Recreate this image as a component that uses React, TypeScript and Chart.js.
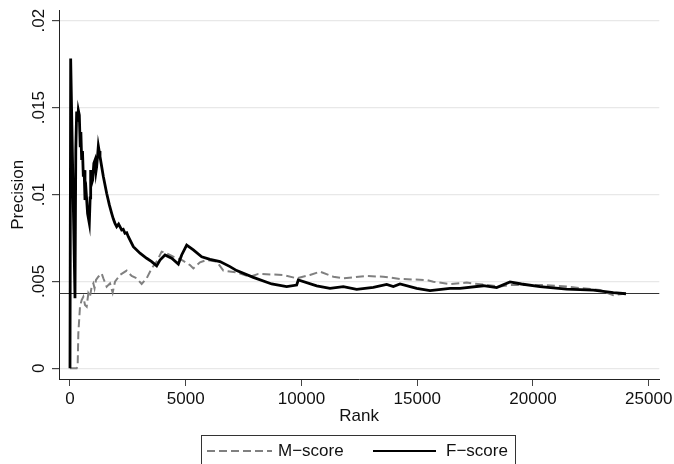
import React, { useEffect, useRef } from "react";
import { Chart, registerables } from "chart.js";

Chart.register(...registerables);

// ---- Data ----
const SERIES_NAMES = ["M\u2212score", "F\u2212score"];
const X_TITLE = "Rank";
const Y_TITLE = "Precision";

const M_RANK = [
  0, 288, 330, 360, 432, 504, 576, 648, 720, 792, 864, 936, 1008, 1060, 1123,
  1224, 1368, 1440, 1584, 1728, 1843, 1944, 2160, 2448, 2664, 2880, 3096, 3312,
  3528, 3744, 3960, 4176, 4464, 4824, 5184, 5328, 5616, 5904, 6336, 6624, 7200,
  7775, 8135, 9215, 9791, 10367, 10799, 11375, 11807, 12815, 13535, 14255,
  15407, 15695, 16415, 17135, 18575, 19006, 20446, 21455, 22894, 23470, 23850,
];
const M_PREC = [
  0, 0, 0.0001, 0.00201, 0.00355, 0.00393, 0.00412, 0.00364, 0.00355, 0.00431,
  0.00412, 0.0047, 0.00489, 0.0046, 0.00508, 0.00527, 0.00546, 0.00518, 0.0047,
  0.00489, 0.00435, 0.00498, 0.00537, 0.00562, 0.00531, 0.00518, 0.00485,
  0.00518, 0.00575, 0.00614, 0.00671, 0.00662, 0.00642, 0.00623, 0.00594,
  0.00575, 0.0061, 0.00623, 0.00614, 0.00562, 0.00552, 0.00527, 0.00543,
  0.00537, 0.00518, 0.00537, 0.00556, 0.00527, 0.00518, 0.00531, 0.00527,
  0.00514, 0.00508, 0.00498, 0.00485, 0.00493, 0.0047, 0.00479, 0.00479,
  0.0047, 0.0045, 0.00421, 0.00427,
];

const F_RANK = [
  0, 29, 216, 250, 288, 330, 360, 403, 440, 470, 504, 540, 576, 610, 648, 700,
  760, 835, 870, 893, 930, 979, 1030, 1080, 1120, 1152, 1190, 1224, 1260, 1296,
  1440, 1584, 1700, 1800, 1870, 1944, 2016, 2100, 2232, 2300, 2376, 2450, 2520,
  2736, 3024, 3312, 3528, 3744, 3888, 4104, 4392, 4680, 4824, 5040, 5328, 5688,
  6048, 6480, 6911, 7200, 7919, 8711, 9359, 9791, 9863, 10655, 11231, 11807,
  12383, 13103, 13679, 13967, 14255, 14975, 15551, 16415, 16847, 17855, 18431,
  19006, 19500, 20302, 21454, 22606, 23470, 24017,
];
const F_PREC = [
  0, 0.01783, 0.00403, 0.0125, 0.01477, 0.0142, 0.01485, 0.01457, 0.0128,
  0.0136, 0.01198, 0.0125, 0.01103, 0.0114, 0.00968, 0.0101, 0.0089, 0.00834,
  0.0098, 0.01141, 0.0106, 0.01083, 0.0118, 0.01198, 0.0113, 0.0116, 0.0122,
  0.01279, 0.0125, 0.01218, 0.01103, 0.01007, 0.0094, 0.00892, 0.0086, 0.00834,
  0.00815, 0.0083, 0.00796, 0.008, 0.00777, 0.0078, 0.00757, 0.007, 0.00662,
  0.00633, 0.00614, 0.00589, 0.00623, 0.00652, 0.00633, 0.006, 0.00652,
  0.00709, 0.00681, 0.00642, 0.00627, 0.00614, 0.00585, 0.00562, 0.00523,
  0.00485, 0.0047, 0.00479, 0.00508, 0.00474, 0.0046, 0.0047, 0.00454, 0.00466,
  0.00483, 0.0047, 0.00485, 0.0046, 0.00447, 0.0046, 0.0046, 0.00475, 0.00464,
  0.00497, 0.00485, 0.0047, 0.00456, 0.0045, 0.00435, 0.00429,
];

const BASELINE = 0.00431;

const X_TICKS = [0, 5000, 10000, 15000, 20000, 25000];
const Y_TICKS = [0, 0.005, 0.01, 0.015, 0.02];
const Y_TICK_LABELS = ["0", ".005", ".01", ".015", ".02"];

const X_MIN = -475;
const X_MAX = 25456;
const Y_MIN = -0.000616;
const Y_MAX = 0.020575;

const FONT = "'Liberation Sans', Arial, Helvetica, sans-serif";
const FONT_SIZE = 17;
const TEXT_COLOR = "#111";
const GRAY = "#808080";

const baselinePlugin = {
  id: "baseline",
  beforeDatasetsDraw(chart: any) {
    const { ctx, chartArea, scales } = chart;
    const y = Math.round(scales.y.getPixelForValue(BASELINE)) + 0.5;
    ctx.save();
    ctx.strokeStyle = "#333";
    ctx.lineWidth = 1.2;
    ctx.beginPath();
    ctx.moveTo(chartArea.left, y);
    ctx.lineTo(chartArea.right, y);
    ctx.stroke();
    ctx.restore();
  },
};

const LEGEND_LAYOUT = [
  { lineStart: 207, lineEnd: 272, textX: 278, color: GRAY, dash: [8, 4], width: 2 },
  { lineStart: 373, lineEnd: 436, textX: 446, color: "#000", dash: [] as number[], width: 2.2 },
];

const boxLegendPlugin = {
  id: "boxLegend",
  afterDraw(chart: any) {
    const { ctx } = chart;
    ctx.save();
    ctx.font = `${FONT_SIZE}px ${FONT}`;
    const left = 201.5;
    const top = 435.5;
    const right = 515.5;
    const cy = 451;
    SERIES_NAMES.forEach((name, i) => {
      const st = LEGEND_LAYOUT[i];
      ctx.strokeStyle = st.color;
      ctx.lineWidth = st.width;
      ctx.setLineDash(st.dash);
      ctx.beginPath();
      ctx.moveTo(st.lineStart, cy);
      ctx.lineTo(st.lineEnd, cy);
      ctx.stroke();
      ctx.setLineDash([]);
      ctx.fillStyle = TEXT_COLOR;
      ctx.textAlign = "left";
      ctx.textBaseline = "middle";
      ctx.fillText(name, st.textX, cy);
    });
    ctx.strokeStyle = "#333";
    ctx.lineWidth = 1;
    ctx.strokeRect(left, top, right - left, 40);
    ctx.restore();
  },
};

export default function App() {
  const ref = useRef<HTMLCanvasElement | null>(null);

  useEffect(() => {
    if (!ref.current) return;
    const chart = new Chart(ref.current, {
      type: "line",
      data: {
        datasets: [
          {
            label: SERIES_NAMES[0],
            data: M_RANK.map((r, i) => ({ x: r, y: M_PREC[i] })),
            borderColor: GRAY,
            borderWidth: 2,
            borderDash: [8, 4],
            pointRadius: 0,
            tension: 0,
            fill: false,
            order: 1,
          },
          {
            label: SERIES_NAMES[1],
            data: F_RANK.map((r, i) => ({ x: r, y: F_PREC[i] })),
            borderColor: "#000",
            borderWidth: 2.8,
            pointRadius: 0,
            tension: 0,
            fill: false,
            order: 0,
          },
        ],
      },
      options: {
        responsive: false,
        animation: false,
        events: [],
        layout: { padding: { top: 10.7, right: 14.7, left: 0, bottom: 0 } },
        plugins: {
          legend: { display: false },
          tooltip: { enabled: false },
          title: { display: false },
        },
        scales: {
          x: {
            type: "linear",
            min: X_MIN,
            max: X_MAX,
            afterBuildTicks: (scale: any) => {
              scale.ticks = X_TICKS.map((v) => ({ value: v }));
            },
            afterFit: (scale: any) => {
              scale.height = 85;
              scale.paddingLeft = 0;
              scale.paddingRight = 0;
            },
            border: { display: true, color: "#222", width: 1 },
            grid: {
              drawOnChartArea: false,
              drawTicks: true,
              tickLength: 7,
              tickColor: "#444",
            },
            ticks: {
              autoSkip: false,
              maxRotation: 0,
              minRotation: 0,
              padding: 3,
              color: TEXT_COLOR,
              font: { family: FONT, size: FONT_SIZE },
              callback: (v: any) => String(v),
            },
            title: {
              display: true,
              text: X_TITLE,
              color: TEXT_COLOR,
              font: { family: FONT, size: FONT_SIZE },
              padding: { top: 0, bottom: 37.5 },
            },
          },
          y: {
            type: "linear",
            min: Y_MIN,
            max: Y_MAX,
            afterBuildTicks: (scale: any) => {
              scale.ticks = Y_TICKS.map((v) => ({ value: v }));
            },
            afterFit: (scale: any) => {
              scale.width = 59;
              scale.paddingTop = 0;
              scale.paddingBottom = 0;
            },
            border: { display: true, color: "#222", width: 1 },
            grid: {
              drawOnChartArea: true,
              color: "#e8e8e8",
              lineWidth: 1.2,
              drawTicks: true,
              tickLength: 7,
              tickColor: "#444",
            },
            ticks: {
              autoSkip: false,
              minRotation: 90,
              maxRotation: 90,
              crossAlign: "center",
              padding: -4,
              color: TEXT_COLOR,
              font: { family: FONT, size: FONT_SIZE },
              callback: (v: any) => {
                const idx = Y_TICKS.findIndex((t) => Math.abs(t - v) < 1e-9);
                return idx >= 0 ? Y_TICK_LABELS[idx] : "";
              },
            },
            title: {
              display: true,
              text: Y_TITLE,
              color: TEXT_COLOR,
              font: { family: FONT, size: FONT_SIZE },
              padding: { top: 8, bottom: 0 },
            },
          },
        },
      },
      plugins: [baselinePlugin, boxLegendPlugin],
    } as any);
    return () => chart.destroy();
  }, []);

  return (
    <div style={{ position: "fixed", left: 0, top: 0, width: 674, height: 464, background: "#fff" }}>
      <canvas ref={ref} width={674} height={464} style={{ display: "block", width: 674, height: 464 }} />
    </div>
  );
}
